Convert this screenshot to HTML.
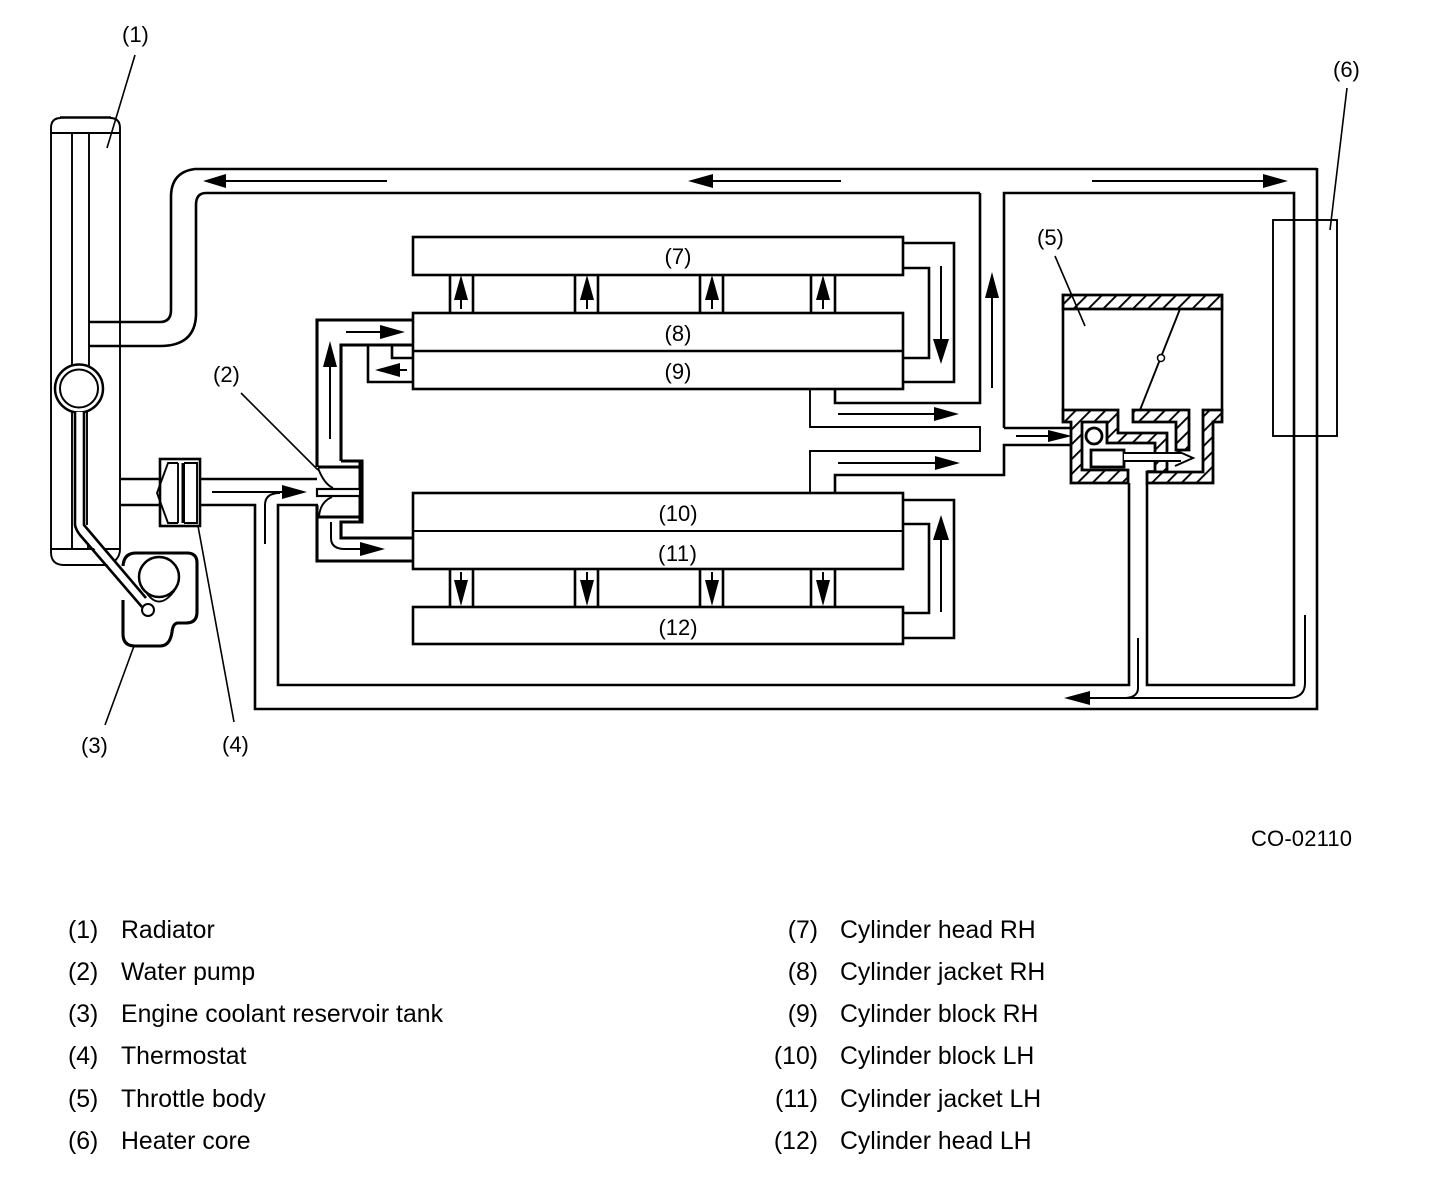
<!DOCTYPE html>
<html>
<head>
<meta charset="utf-8">
<style>
html,body{margin:0;padding:0;background:#fff}
svg{display:block}
text{font-family:"Liberation Sans",Arial,sans-serif;fill:#000}
.l{font-size:24.800px}
.s{font-size:22px}
.f{fill:none;stroke:#000;stroke-width:1.900}
.m{fill:none;stroke:#000;stroke-width:2.600}
.b{fill:none;stroke:#000;stroke-width:3.100}
.t{fill:none;stroke:#000;stroke-width:1.600}
.a{fill:none;stroke:#000;stroke-width:2}
</style>
</head>
<body>
<svg width="1440" height="1180" viewBox="0 0 1440 1180" xmlns="http://www.w3.org/2000/svg">
<defs>
<pattern id="h" patternUnits="userSpaceOnUse" width="10.500" height="10.500" patternTransform="rotate(45)">
<rect width="10.500" height="10.500" fill="#fff"/>
<rect x="0" width="1.900" height="10.500" fill="#000"/>
</pattern>
</defs>
<rect width="1440" height="1180" fill="#fff"/>

<!-- Radiator -->
<path class="f" d="M51 133V128Q51 118 61 118M110 118Q120 118 120 128V133M51 133H120M51 133V552Q51 565 64 565H108Q120 560 120 549V133M51 549H120"/>
<path class="m" d="M60 117.500H111"/>
<path class="f" d="M72 133V366M89 133V366M72 412V549M87 412V525M88 543V549"/>
<circle cx="79" cy="388.500" r="24" fill="#fff" stroke="#000" stroke-width="2.500"/>
<circle cx="79" cy="388.500" r="19" fill="#fff" stroke="#000" stroke-width="2"/>

<!-- Reservoir -->
<path class="b" d="M123 566Q124 553 136 553H187Q197 553 197 563V612Q197 623 186 623H178Q173 623 172 632Q170 646 160 646H135Q123 646 123 634V600"/>
<circle cx="159" cy="577" r="20" fill="#fff" stroke="#000" stroke-width="2.500"/>
<path class="f" d="M146 592Q159 612 175 590"/>

<!-- Diagonal hose -->
<path d="M75 412V525L142 607L148 600L84 525V412Z" fill="#fff" stroke="none"/>
<path class="m" d="M75 412V525Q76 530 80 535L142 607M84 412V525L146 598"/>
<circle cx="148" cy="610" r="6" fill="#fff" stroke="#000" stroke-width="2"/>

<!-- Top hose to radiator -->
<path class="m" d="M980 193H206Q196 193 196 205V315Q195 346 160 346H89"/>
<path class="m" d="M1317 169H195Q171 172 171 197V310Q171 322 160 322H89"/>

<!-- Outer circuit -->
<path class="m" d="M1317 168V709H255V505H200"/>
<path class="m" d="M1004 428V193H1294V685H1147V483"/>
<path class="m" d="M1129 483V685H278V505H318"/>
<path class="m" d="M120 479H160M200 479H317M120 505H160"/>
<path class="m" d="M980 193V403H835V389"/>
<path class="f" d="M810 389V427H980V451H810V493"/>
<path class="m" d="M835 493V475H1004V445H1071M1004 428H1071"/>

<!-- Heater core -->
<rect class="f" x="1273" y="220" width="64" height="216"/>

<!-- Thermostat -->
<rect x="160" y="459" width="40" height="67" fill="#fff" stroke="#000" stroke-width="2.600"/>
<path class="f" d="M178 463H168L157 493L168 523H178"/>
<path class="f" d="M178 463V523M184 463H197V523H184"/>
<path d="M181.500 463H185V523H181.500Z" fill="#000"/>

<!-- Cylinder blocks -->
<rect class="m" x="413" y="237" width="490" height="38"/>
<rect class="m" x="413" y="313" width="490" height="76"/>
<path class="m" d="M413 351H903"/>
<rect class="m" x="413" y="493" width="490" height="76"/>
<path class="f" d="M413 531H903"/>
<rect class="m" x="413" y="607" width="490" height="37"/>

<!-- Connectors head-block -->
<path class="m" d="M450 275V313M473 275V313M575 275V313M598 275V313M700 275V313M723 275V313M811 275V313M835 275V313"/>
<path class="m" d="M450 569V607M473 569V607M575 569V607M598 569V607M700 569V607M723 569V607M811 569V607M835 569V607"/>

<!-- Right side loops -->
<path class="m" d="M903 243H954V382H903"/>
<path class="m" d="M903 268H929V358H903"/>
<path class="m" d="M903 500H954V638H903"/>
<path class="m" d="M903 524H929V613H903"/>

<!-- Left pump circuit -->
<path class="b" d="M413 320H317V467M341 461V345H413M341 461H362V522H341V538H413M317 505V561H413"/>
<path class="m" d="M368 345V382H413M392 345V358H413"/>
<path d="M358.500 461H363V522H358.500Z" fill="#000"/>
<path class="b" d="M318 467H360M318 517H360"/>
<rect x="317" y="489" width="43" height="7" fill="#fff" stroke="#000" stroke-width="2.200"/>
<path class="f" d="M318 468Q324 484 333 488M319 517Q320 502 332 497"/>

<!-- Throttle body -->
<path d="M1063 295H1222V309H1063Z" fill="url(#h)" stroke="#000" stroke-width="2.800"/>
<path class="m" d="M1063 309V411M1222 309V411"/>
<path d="M1063 410H1118V433H1167V472H1155V443H1107V422H1082V470H1128V483H1071V422H1063Z" fill="url(#h)" stroke="#000" stroke-width="2.800"/>
<path d="M1133 410H1189V450H1176V422H1133Z" fill="url(#h)" stroke="#000" stroke-width="2.800"/>
<path d="M1203 410H1222V422H1213V483H1147V472H1203Z" fill="url(#h)" stroke="#000" stroke-width="2.800"/>
<path class="m" d="M1147 471.500H1156"/>
<circle cx="1094" cy="436" r="8" fill="#fff" stroke="#000" stroke-width="2.800"/>
<rect x="1091" y="450" width="33" height="17" fill="#fff" stroke="#000" stroke-width="2.800"/>
<path d="M1124 453H1176V450L1193 458L1176 466V461H1124Z" fill="#fff" stroke="none"/>
<path class="a" d="M1124 453H1181M1124 461H1181M1175 450L1193 458L1175 466"/>
<path class="f" d="M1180 309L1140 410"/>
<circle cx="1161" cy="358" r="3.500" fill="#fff" stroke="#000" stroke-width="1.500"/>

<!-- Flow arrows -->
<g fill="#000" stroke="none">
<path d="M203 181L226 174V188Z"/>
<path d="M688 181L713 174V188Z"/>
<path d="M1288 181L1263 174V188Z"/>
<path d="M1064 698L1090 691V705Z"/>
<path d="M461 275L454 300H468Z"/>
<path d="M587 275L580 300H594Z"/>
<path d="M712 275L705 300H719Z"/>
<path d="M823 275L816 300H830Z"/>
<path d="M461 606L454 580H468Z"/>
<path d="M587 606L580 580H594Z"/>
<path d="M712 606L705 580H719Z"/>
<path d="M823 606L816 580H830Z"/>
<path d="M941 364L933 339H949Z"/>
<path d="M941 515L933 540H949Z"/>
<path d="M992 272L985 298H999Z"/>
<path d="M959 414L934 407V421Z"/>
<path d="M960 463L935 456V470Z"/>
<path d="M405 332L380 325V339Z"/>
<path d="M330 341L323 367H337Z"/>
<path d="M375 370L400 363V377Z"/>
<path d="M385 549L360 542V556Z"/>
<path d="M307 492L282 485V499Z"/>
<path d="M1072 436L1048 430V442Z"/>
</g>
<path class="a" d="M387 181H222M841 181H710M1092 181H1266M461 300V309M587 300V309M712 300V309M823 300V309M461 572V582M587 572V582M712 572V582M823 572V582"/>
<path class="a" d="M941 266V342M941 612V537M992 388V295M838 414H936M838 463H937M346 332H382M330 439V365M407 370H398M1016 436H1050"/>
<path class="a" d="M212 492H284M265 544V505Q265 493 280 493"/>
<path class="a" d="M331 522V538Q331 549 345 549H362"/>
<path class="a" d="M1305 615V683Q1305 697 1290 698H1088M1138 638V688Q1138 697 1126 698"/>

<!-- Leader lines -->
<path class="t" d="M135 55L107 148M241 393L318 470M134 646L105 725M198 526L234 722M1055 256L1085 326M1347 88L1330 230"/>

<!-- Diagram labels -->
<text class="s" x="122" y="42">(1)</text>
<text class="s" x="213" y="382">(2)</text>
<text class="s" x="81" y="753">(3)</text>
<text class="s" x="222" y="752">(4)</text>
<text class="s" x="1037" y="245">(5)</text>
<text class="s" x="1333" y="77">(6)</text>
<text class="s" x="678" y="264" text-anchor="middle">(7)</text>
<text class="s" x="678" y="341" text-anchor="middle">(8)</text>
<text class="s" x="678" y="379" text-anchor="middle">(9)</text>
<text class="s" x="678" y="521" text-anchor="middle">(10)</text>
<text class="s" x="658" y="561" textLength="39">(11)</text>
<text class="s" x="678" y="635" text-anchor="middle">(12)</text>
<text class="s" x="1251" y="846" textLength="101">CO-02110</text>

<!-- Legend -->
<text class="l" x="68" y="938">(1)</text><text class="l" x="121" y="938">Radiator</text>
<text class="l" x="68" y="980">(2)</text><text class="l" x="121" y="980">Water pump</text>
<text class="l" x="68" y="1022">(3)</text><text class="l" x="121" y="1022" textLength="322">Engine coolant reservoir tank</text>
<text class="l" x="68" y="1064">(4)</text><text class="l" x="121" y="1064">Thermostat</text>
<text class="l" x="68" y="1107">(5)</text><text class="l" x="121" y="1107">Throttle body</text>
<text class="l" x="68" y="1149">(6)</text><text class="l" x="121" y="1149">Heater core</text>
<text class="l" x="818" y="938" text-anchor="end">(7)</text><text class="l" x="840" y="938">Cylinder head RH</text>
<text class="l" x="818" y="980" text-anchor="end">(8)</text><text class="l" x="840" y="980">Cylinder jacket RH</text>
<text class="l" x="818" y="1022" text-anchor="end">(9)</text><text class="l" x="840" y="1022">Cylinder block RH</text>
<text class="l" x="818" y="1064" text-anchor="end">(10)</text><text class="l" x="840" y="1064">Cylinder block LH</text>
<text class="l" x="775" y="1107" textLength="43">(11)</text><text class="l" x="840" y="1107">Cylinder jacket LH</text>
<text class="l" x="818" y="1149" text-anchor="end">(12)</text><text class="l" x="840" y="1149">Cylinder head LH</text>
</svg>
</body>
</html>
